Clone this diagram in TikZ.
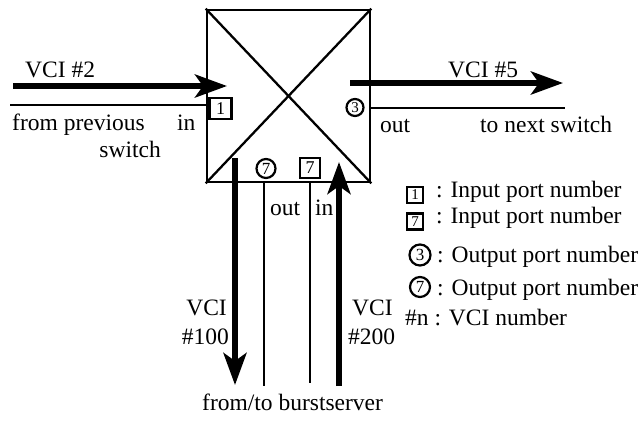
\documentclass[tikz,border=0pt]{standalone}
\usepackage{fontspec}
\setmainfont{Liberation Serif}
\usetikzlibrary{arrows.meta}
\begin{document}
\begin{tikzpicture}[x=1pt,y=-1pt,
  txt/.style={font=\fontsize{23.5}{28}\selectfont, inner sep=0pt},
  bigarrow/.style={line width=5.5pt, -{Stealth[length=32pt,width=23pt,inset=8pt]}},
  thinline/.style={line width=2.4pt},
  sqport/.style={draw, line width=2.2pt, minimum width=20pt, minimum height=20pt, inner sep=0pt, font=\fontsize{18}{18}\selectfont},
  circport/.style={draw, circle, line width=2.2pt, minimum size=19pt, inner sep=0pt, font=\fontsize{17}{17}\selectfont}]
\useasboundingbox (0,0) rectangle (642,421);

% switch box
\node[draw, line width=2.6pt, minimum width=163pt, minimum height=172pt, inner sep=0pt] (sw) at (288.5,96) {};
\draw[line width=2.3pt] (sw.north west) -- (sw.south east);
\draw[line width=2.3pt] (sw.south west) -- (sw.north east);

% left input
\coordinate (a2s) at (13,86);
\coordinate (a2e) at (227,86);
\draw[bigarrow] (a2s) -- (a2e);
\coordinate (fl) at (10,105);
\draw[thinline] (fl) -- (fl -| sw.west);
\node[txt, anchor=base west] (vci2) at (25,77) {VCI \#2};
\node[txt, anchor=base west] (fromprev) at (12,130) {from previous};
\node[txt, anchor=base east] (switchl) at (161,157) {switch};
\node[txt, anchor=base west] (inl) at (177,130) {in};
\node[sqport, minimum width=22pt, minimum height=21pt] (p1) at (220.5,108.5) {1};

% right output
\coordinate (a5s) at (350,83);
\coordinate (a5e) at (563,83);
\draw[bigarrow] (a5s) -- (a5e);
\coordinate (tr) at (565,108);
\draw[thinline] (tr -| sw.east) -- (tr);
\node[txt, anchor=base west] (vci5) at (448,77) {VCI \#5};
\node[txt, anchor=base west] (outr) at (380,132) {out};
\node[txt, anchor=base west] (tonext) at (480,132) {to next switch};
\node[circport, minimum size=17pt, font=\fontsize{15}{15}\selectfont] (p3) at (355,107.5) {3};

% bottom burstserver connections
\coordinate (d1s) at (235,158);
\coordinate (d1e) at (235,385);
\draw[bigarrow] (d1s) -- (d1e);
\coordinate (b1) at (264,386);
\draw[thinline] (b1 |- sw.south) -- (b1);
\coordinate (b2) at (310,383);
\draw[thinline] (b2 |- sw.south) -- (b2);
\coordinate (u1s) at (339,386);
\coordinate (u1e) at (339,162);
\draw[bigarrow] (u1s) -- (u1e);
\node[circport] (p7o) at (266,168.5) {7};
\node[sqport] (p7i) at (310,168) {7};
\node[txt, anchor=base west] (outb) at (270,215) {out};
\node[txt, anchor=base west] (inb) at (315,215) {in};
\node[txt, anchor=base east] (vci100a) at (227,315) {VCI};
\node[txt, anchor=base east] (vci100b) at (229,344) {\#100};
\node[txt, anchor=base west] (vci200a) at (352,315) {VCI};
\node[txt, anchor=base west] (vci200b) at (348,344) {\#200};
\node[txt, anchor=base west] (burst) at (202,410) {from/to burstserver};

% legend
\node[sqport, minimum width=16pt, minimum height=16pt, font=\fontsize{15}{15}\selectfont] (l1) at (415,195) {1};
\node[sqport, minimum width=16pt, minimum height=16pt, font=\fontsize{15}{15}\selectfont] (l2) at (415,221.5) {7};
\node[circport, minimum size=21pt] (l3) at (420,255) {3};
\node[circport, minimum size=20pt] (l4) at (420,287) {7};
\node[txt, anchor=base west] (t1) at (436,197) {: Input port number};
\node[txt, anchor=base west] (t2) at (436,223) {: Input port number};
\node[txt, anchor=base west] (t3) at (437,262) {: Output port number};
\node[txt, anchor=base west] (t4) at (437,295) {: Output port number};
\node[txt, anchor=base west] (t5) at (405,325) {\#n : VCI number};
\end{tikzpicture}
\end{document}
